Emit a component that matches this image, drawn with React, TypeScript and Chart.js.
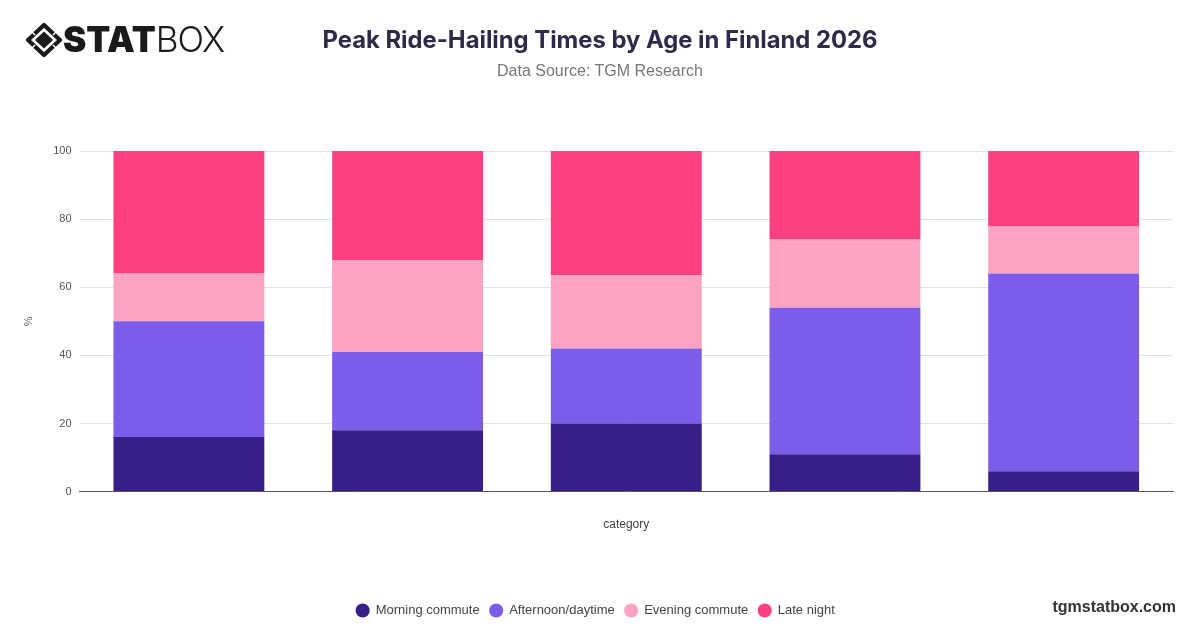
import React, { useEffect, useRef } from "react";
import { Chart, registerables } from "chart.js";

Chart.register(...registerables);

const TITLE = "Peak Ride-Hailing Times by Age in Finland 2026";
const SUBTITLE = "Data Source: TGM Research";
const X_TITLE = "category";
const Y_TITLE = "%";

const categories = ["", "", "", "", ""];
const seriesNames = ["Morning commute", "Afternoon/daytime", "Evening commute", "Late night"];
const morningCommute = [16, 18, 20, 11, 6];
const afternoonDaytime = [34, 23, 22, 43, 58];
const eveningCommute = [14, 27, 21.5, 20, 14];
const lateNight = [36, 32, 36.5, 26, 22];
const seriesColors = ["#371f87", "#7b5dea", "#fca3c4", "#fe4081"];
const yTicks = [0, 20, 40, 60, 80, 100];

export default function App() {
  const canvasRef = useRef<HTMLCanvasElement | null>(null);

  useEffect(() => {
    const canvas = canvasRef.current;
    if (!canvas) return;
    const values = [morningCommute, afternoonDaytime, eveningCommute, lateNight];
    const chart = new Chart(canvas, {
      type: "bar",
      data: {
        labels: categories,
        datasets: seriesNames.map((name, i) => ({
          label: name,
          data: values[i],
          backgroundColor: seriesColors[i],
          borderWidth: 0,
          barPercentage: 0.69,
          categoryPercentage: 1,
        })),
      },
      options: {
        responsive: true,
        maintainAspectRatio: false,
        animation: false,
        layout: { padding: { top: 151, left: 18, right: 27, bottom: 0 } },
        plugins: {
          tooltip: { enabled: false },
          title: { display: false },
          legend: {
            position: "bottom",
            labels: {
              usePointStyle: true,
              pointStyle: "circle",
              boxWidth: 13,
              boxHeight: 10,
              padding: 10,
              color: "#444",
              font: { family: "'Liberation Sans', Arial, sans-serif", size: 13 },
            },
          },
        },
        scales: {
          x: {
            stacked: true,
            grid: { display: false },
            border: { display: true, color: "#555", width: 1 },
            ticks: { display: false },
            title: {
              display: true,
              text: X_TITLE,
              color: "#444",
              font: { family: "'Liberation Sans', Arial, sans-serif", size: 12 },
              padding: { top: 18, bottom: 62 },
            },
          },
          y: {
            stacked: true,
            min: 0,
            max: 100,
            afterBuildTicks: (scale: any) => {
              scale.ticks = yTicks.map((v) => ({ value: v }));
            },
            grid: { color: "#e2e2e2", lineWidth: 1, drawTicks: false },
            border: { display: false },
            ticks: {
              color: "#555",
              padding: 8,
              font: { family: "'Liberation Sans', Arial, sans-serif", size: 11 },
            },
            title: {
              display: true,
              text: Y_TITLE,
              color: "#666",
              font: { family: "'Liberation Sans', Arial, sans-serif", size: 11 },
              padding: { top: 4, bottom: 10 },
            },
          },
        },
      },
    });
    return () => chart.destroy();
  }, []);

  return (
    <div
      style={{
        position: "absolute",
        left: 0,
        top: 0,
        width: 1200,
        height: 628,
        overflow: "hidden",
        background: "#ffffff",
      }}
    >
      <div style={{ position: "absolute", left: 0, top: 0, width: 1200, height: 627 }}>
        <canvas ref={canvasRef} />
      </div>
      <svg
        style={{ position: "absolute", left: 25, top: 22 }}
        width={38}
        height={36}
        viewBox="0 0 38 36"
      >
        <polygon
          points="19,3 35,18 19,33 3,18"
          fill="none"
          stroke="#1a1a1a"
          strokeWidth={4.2}
          strokeLinejoin="round"
        />
        <polygon points="19,9.5 28,18 19,26.5 10,18" fill="#1a1a1a" />
        <line x1="6" y1="9" x2="10" y2="13" stroke="#fff" strokeWidth={1.6} />
        <line x1="32" y1="9" x2="28" y2="13" stroke="#fff" strokeWidth={1.6} />
        <line x1="6" y1="27" x2="10" y2="23" stroke="#fff" strokeWidth={1.6} />
        <line x1="32" y1="27" x2="28" y2="23" stroke="#fff" strokeWidth={1.6} />
      </svg>
      <div
        style={{
          position: "absolute",
          left: 63,
          top: 17,
          fontFamily: "Inter, 'Liberation Sans', sans-serif",
          fontSize: 35,
          lineHeight: "44px",
          color: "#1a1a1a",
          whiteSpace: "nowrap",
        }}
      >
        <span style={{ fontWeight: 900, letterSpacing: 0 }}>STAT</span>
        <span style={{ fontWeight: 300, letterSpacing: -1 }}>BOX</span>
      </div>
      <div
        style={{
          position: "absolute",
          left: 0,
          top: 24,
          width: 1200,
          textAlign: "center",
          fontFamily: "Inter, 'Liberation Sans', sans-serif",
          fontWeight: 700,
          fontSize: 23.8,
          lineHeight: "32px",
          color: "#2e2a4a",
        }}
      >
        {TITLE}
      </div>
      <div
        style={{
          position: "absolute",
          left: 0,
          top: 61,
          width: 1200,
          textAlign: "center",
          fontFamily: "'Liberation Sans', Arial, sans-serif",
          fontSize: 16,
          lineHeight: "20px",
          color: "#777",
        }}
      >
        {SUBTITLE}
      </div>
      <div
        style={{
          position: "absolute",
          right: 24,
          top: 597,
          fontFamily: "'Liberation Sans', Arial, sans-serif",
          fontWeight: 700,
          fontSize: 16,
          lineHeight: "20px",
          color: "#333",
        }}
      >
        tgmstatbox.com
      </div>
    </div>
  );
}
